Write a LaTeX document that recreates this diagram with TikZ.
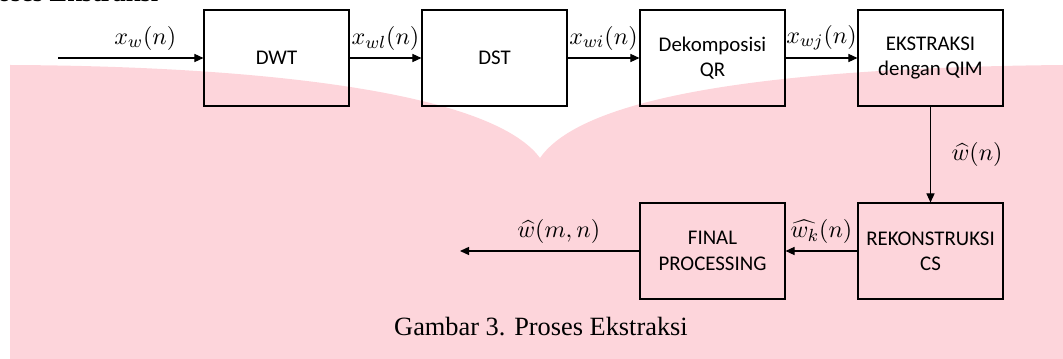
\documentclass[tikz,border=0pt]{standalone}
\usepackage{fontspec}
\setmainfont{Liberation Serif}
\newfontfamily\blokfont{Carlito}
\usetikzlibrary{arrows.meta}
\definecolor{wmpink}{RGB}{253,213,219}

\begin{document}
\begin{tikzpicture}[x=0.16mm, y=-0.16mm,
		blok/.style={draw, line width=0.5pt, minimum width=23.2mm, minimum height=15.36mm,
				inner sep=0pt, align=center, font=\blokfont\fontsize{9.5}{11.5}\selectfont},
		panah/.style={-{Triangle[length=1.45mm, width=1.3mm]}, line width=0.5pt},
		sinyal/.style={font=\fontsize{11}{13}\selectfont}]
		\useasboundingbox (0, 0) rectangle (1063, 359);
		\clip (0, 0) rectangle (1063, 359);

		% watermark
		\fill[wmpink] (10, 65) .. controls (250, 66) and (490, 90) .. (540, 158)
			.. controls (580, 100) and (750, 68) .. (1063, 65) -- (1063, 359) -- (10, 359) -- cycle;

		\node[anchor=base west, inner sep=0pt, font=\bfseries\fontsize{12}{14}\selectfont] (judul) at (-30, 2) {Proses Ekstraksi};

		\node[blok] (dwt) at (276.5, 58) {DWT};
		\node[blok] (dst) at (494.5, 58) {DST};
		\node[blok] (qr) at (712.5, 58) {Dekomposisi\\QR};
		\node[blok] (qim) at (930.5, 58) {EKSTRAKSI\\dengan QIM};
		\node[blok] (cs) at (930.5, 251) {REKONSTRUKSI\\CS};
		\node[blok] (final) at (712.5, 251) {FINAL\\PROCESSING};

		\coordinate (masuk) at (58, 58);
		\coordinate (keluar) at (460, 251);

		\draw[panah] (masuk) -- node[sinyal, above, pos=0.6] {$x_w(n)$} (dwt);
		\draw[panah] (dwt) -- node[sinyal, above] {$x_{wl}(n)$} (dst);
		\draw[panah] (dst) -- node[sinyal, above] {$x_{wi}(n)$} (qr);
		\draw[panah] (qr) -- node[sinyal, above] {$x_{wj}(n)$} (qim);
		\draw[panah] (qim) -- node[sinyal, right=6pt] {$\widehat{w}(n)$} (cs);
		\draw[panah] (cs) -- node[sinyal, above] {$\widehat{w_k}(n)$} (final);
		\draw[panah] (final) -- node[sinyal, above, pos=0.45] {$\widehat{w}(m,n)$} (keluar);

		\node[anchor=base, font=\fontsize{12}{14}\selectfont] (caption) at (541, 336) {Gambar 3. Proses Ekstraksi};
	\end{tikzpicture}
\end{document}
